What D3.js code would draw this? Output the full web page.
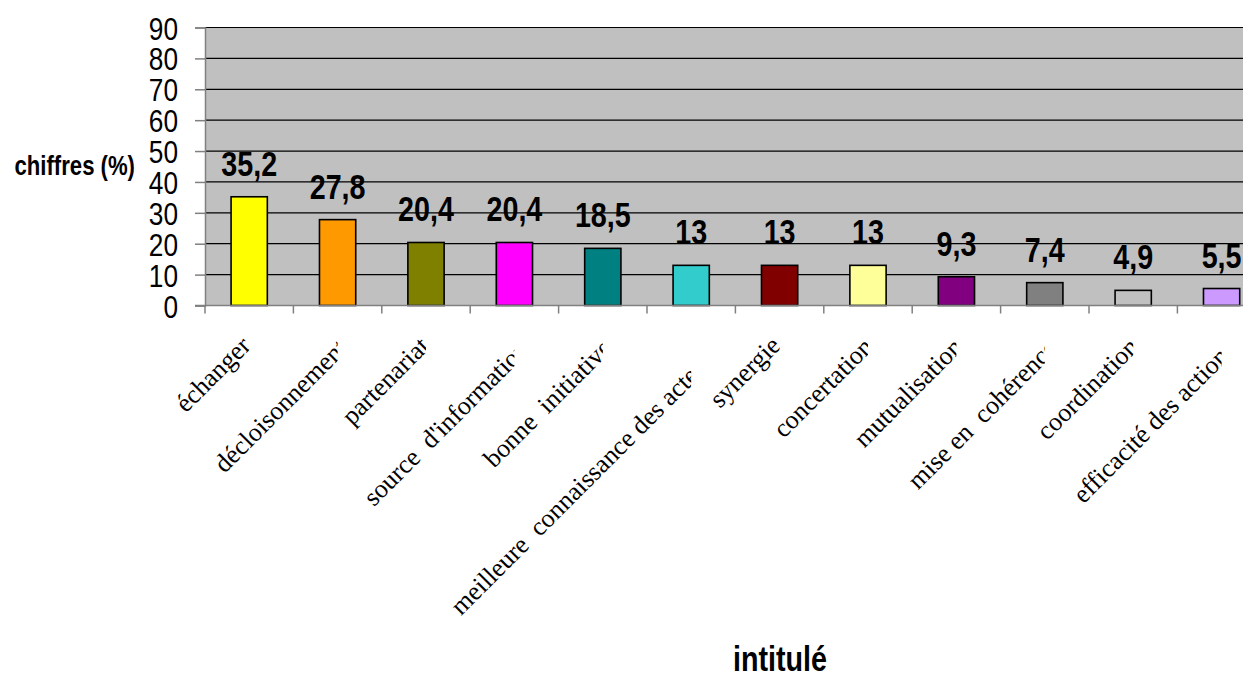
<!DOCTYPE html>
<html lang="fr">
<head>
<meta charset="UTF-8">
<title>intitulé</title>
<script src="https://d3js.org/d3.v7.min.js"></script>
<style>
  body { margin: 0; background: #fff; }
  svg { display: block; }
  .sans { font-family: "Liberation Sans", Arial, sans-serif; }
</style>
</head>
<body>
<script>
// data
const categories = ["échanger", "décloisonnement", "partenariat", "source  d'information",
  "bonne  initiative", "meilleure  connaissance des acteurs", "synergie", "concertation",
  "mutualisation", "mise en  cohérence", "coordination", "efficacité des actions"];
const values = [35.2, 27.8, 20.4, 20.4, 18.5, 13, 13, 13, 9.3, 7.4, 4.9, 5.5];
const barColors = ["#FFFF00", "#FF9900", "#808000", "#FF00FF", "#008080", "#33CCCC",
  "#800000", "#FFFF99", "#800080", "#808080", "#C0C0C0", "#CC99FF"];
const yTicks = [0, 10, 20, 30, 40, 50, 60, 70, 80, 90];

const W = 1243, H = 677;
const plot = { left: 205, top: 27.5, bottom: 305.5, step: 88.4 };
const squeeze = 0.82; // the original sans text is condensed

const svg = d3.select("body").append("svg")
    .attr("width", W)
    .attr("height", H);

const x = d3.scaleBand()
    .domain(categories)
    .range([plot.left, plot.left + plot.step * categories.length])
    .padding(0);

const y = d3.scaleLinear()
    .domain([0, 90])
    .range([plot.bottom, plot.top]);

// place a condensed text at (px, py)
function narrowAt(sel, px, py) {
  sel.attr("x", 0).attr("y", 0)
     .attr("transform", (d, i) => {
       const a = typeof px === "function" ? px(d, i) : px;
       const b = typeof py === "function" ? py(d, i) : py;
       return `translate(${a},${b}) scale(${squeeze},1)`;
     });
}

// plot background
svg.append("rect")
    .attr("x", plot.left)
    .attr("y", y(90))
    .attr("width", x.range()[1] - plot.left)
    .attr("height", y(0) - y(90))
    .attr("fill", "#C0C0C0");

// gridlines
svg.append("g")
  .selectAll("line")
  .data(yTicks.filter(d => d > 0))
  .join("line")
    .attr("x1", plot.left)
    .attr("x2", x.range()[1])
    .attr("y1", d => y(d))
    .attr("y2", d => y(d))
    .attr("stroke", "#000")
    .attr("stroke-width", 1.2);

// y axis
const yAxis = svg.append("g")
    .attr("transform", `translate(${plot.left},0)`)
    .call(d3.axisLeft(y).tickValues(yTicks).tickSize(10));
yAxis.select(".domain").attr("stroke", "#808080").attr("stroke-width", 1.5);
yAxis.selectAll(".tick line").attr("stroke", "#808080").attr("stroke-width", 1.5);
yAxis.selectAll(".tick text")
    .attr("class", "sans")
    .attr("font-size", 32)
    .attr("fill", "#000")
    .attr("dy", "0.36em")
    .call(narrowAt, -27, 0);

// bars
const barW = plot.step * 0.41;
svg.append("g")
  .selectAll("rect")
  .data(values)
  .join("rect")
    .attr("x", (d, i) => x(categories[i]) + (x.bandwidth() - barW) / 2)
    .attr("y", d => y(d))
    .attr("width", barW)
    .attr("height", d => y(0) - y(d))
    .attr("fill", (d, i) => barColors[i])
    .attr("stroke", "#000")
    .attr("stroke-width", 1.6);

// x axis line and ticks at band boundaries
svg.append("line")
    .attr("x1", plot.left - 10)
    .attr("x2", x.range()[1])
    .attr("y1", y(0))
    .attr("y2", y(0))
    .attr("stroke", "#808080")
    .attr("stroke-width", 1.5);
svg.append("g")
  .selectAll("line")
  .data(categories)
  .join("line")
    .attr("x1", d => x(d))
    .attr("x2", d => x(d))
    .attr("y1", y(0))
    .attr("y2", y(0) + 8)
    .attr("stroke", "#808080")
    .attr("stroke-width", 1.5);

// value labels
svg.append("g")
  .selectAll("text")
  .data(values)
  .join("text")
    .attr("class", "sans")
    .attr("text-anchor", "middle")
    .attr("font-size", 35)
    .attr("font-weight", "bold")
    .text(d => String(d).replace(".", ","))
    .call(narrowAt, (d, i) => x(categories[i]) + x.bandwidth() / 2, d => y(d) - 21);

// rotated category labels, cut at the band centre like the original
const defs = svg.append("defs");
categories.forEach((c, i) => {
  const cx = x(c) + x.bandwidth() / 2;
  defs.append("clipPath").attr("id", "clip" + i)
    .append("rect")
      .attr("x", cx - 500).attr("y", 0)
      .attr("width", 500).attr("height", H);
});

svg.append("g")
  .selectAll("g")
  .data(categories)
  .join("g")
    .attr("clip-path", (d, i) => `url(#clip${i})`)
  .append("text")
    .attr("font-family", "'Liberation Serif', 'Times New Roman', serif")
    .attr("font-size", 26)
    .attr("text-anchor", "end")
    .style("white-space", "pre")
    .text(d => d)
    .each(function(d) {
      const L = this.getComputedTextLength();
      const cx = x(d) + x.bandwidth() / 2;
      const yc = 338 + 0.13 * L;               // where the baseline meets the cut
      const h = Math.max(0, 0.145 * (L - 65)) / Math.SQRT2; // hidden tail
      d3.select(this).attr("transform", `translate(${cx + h},${yc - h}) rotate(-45)`);
    });

// axis titles
svg.append("text")
    .attr("class", "sans")
    .attr("text-anchor", "end")
    .attr("font-size", 27)
    .attr("font-weight", "bold")
    .text("chiffres (%)")
    .call(narrowAt, 135, 175);

svg.append("text")
    .attr("class", "sans")
    .attr("text-anchor", "middle")
    .attr("font-size", 35)
    .attr("font-weight", "bold")
    .text("intitulé")
    .call(narrowAt, 780, 671);
</script>
</body>
</html>
